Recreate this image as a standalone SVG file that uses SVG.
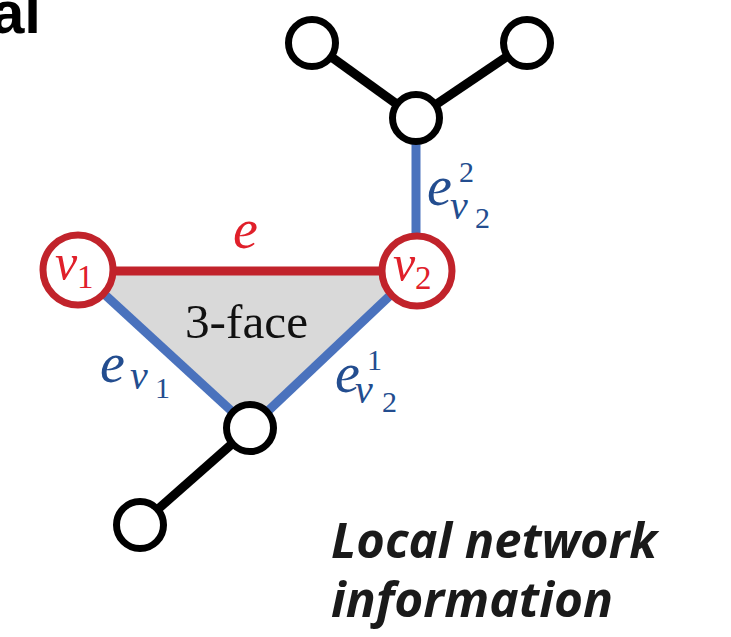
<svg xmlns="http://www.w3.org/2000/svg" width="731" height="637" viewBox="0 0 731 637">
<style>
.blk{stroke:#000;stroke-width:9;fill:none}
.blu{stroke:#4a72bd;stroke-width:9;fill:none}
.red{stroke:#c1232b;stroke-width:9;fill:none}
.nd{fill:#fff;stroke:#000;stroke-width:7}
.rn{fill:#fff;stroke:#c1232b;stroke-width:7}
.m{font-family:"Liberation Serif","DejaVu Serif",serif;font-style:italic}
.n{font-family:"Liberation Serif","DejaVu Serif",serif}
.rt{fill:#e0202a}
.bt{fill:#234d8f}
.big{font-family:"Open Sans","Liberation Sans",sans-serif;font-weight:bold;font-style:italic;font-size:48px;fill:#1a1a1a}
</style>
<text x="41" y="33" text-anchor="end" font-family="Liberation Sans, Arial, sans-serif" font-weight="bold" font-size="60" fill="#000">al</text>
<polygon points="78,270 417,270 250,428" fill="#d9d9d9"/>
<g id="edges">
<line class="blk" x1="312" y1="43" x2="416" y2="118"/>
<line class="blk" x1="527" y1="43" x2="416" y2="118"/>
<line class="blu" x1="416" y1="118" x2="416" y2="270"/>
<line class="red" x1="78" y1="271" x2="417" y2="271"/>
<line class="blu" x1="78" y1="270" x2="250" y2="428"/>
<line class="blu" x1="417" y1="270" x2="250" y2="428"/>
<line class="blk" x1="250" y1="428" x2="140" y2="525"/>
</g>
<g id="n_tl"><circle class="nd" cx="312" cy="43" r="23.5"/></g>
<g id="n_tr"><circle class="nd" cx="527" cy="43" r="23.5"/></g>
<g id="n_m"><circle class="nd" cx="416" cy="118" r="23.5"/></g>
<g id="n_b"><circle class="nd" cx="250" cy="428" r="23.5"/></g>
<g id="n_bl"><circle class="nd" cx="140" cy="525" r="23.5"/></g>
<g id="v1"><circle class="rn" cx="78" cy="270" r="35"/>
<text class="m rt" x="55" y="279" font-size="50">v</text><text class="n rt" x="77" y="288" font-size="33">1</text></g>
<g id="v2"><circle class="rn" cx="417" cy="271" r="35"/>
<text class="m rt" x="393" y="280" font-size="50">v</text><text class="n rt" x="415" y="289" font-size="33">2</text></g>
<text class="m rt" x="233" y="248" font-size="56">e</text>
<text class="n" x="185" y="338" font-size="48" fill="#111" textLength="123" lengthAdjust="spacingAndGlyphs">3-face</text>
<g class="bt">
<text class="m" x="100" y="382" font-size="56">e</text>
<text class="m" x="130" y="389" font-size="40">v</text>
<text class="n" x="155" y="398" font-size="30">1</text>
<text class="m" x="335" y="392" font-size="56">e</text>
<text class="n" x="367" y="370" font-size="30">1</text>
<text class="m" x="355" y="403" font-size="40">v</text>
<text class="n" x="382" y="412" font-size="30">2</text>
<text class="m" x="427" y="205" font-size="56">e</text>
<text class="n" x="459" y="182" font-size="30">2</text>
<text class="m" x="450" y="219" font-size="40">v</text>
<text class="n" x="475" y="228" font-size="30">2</text>
</g>
<text class="big" x="331" y="558" textLength="326" lengthAdjust="spacingAndGlyphs">Local network</text>
<text class="big" x="331" y="617" textLength="282" lengthAdjust="spacingAndGlyphs">information</text>
</svg>
